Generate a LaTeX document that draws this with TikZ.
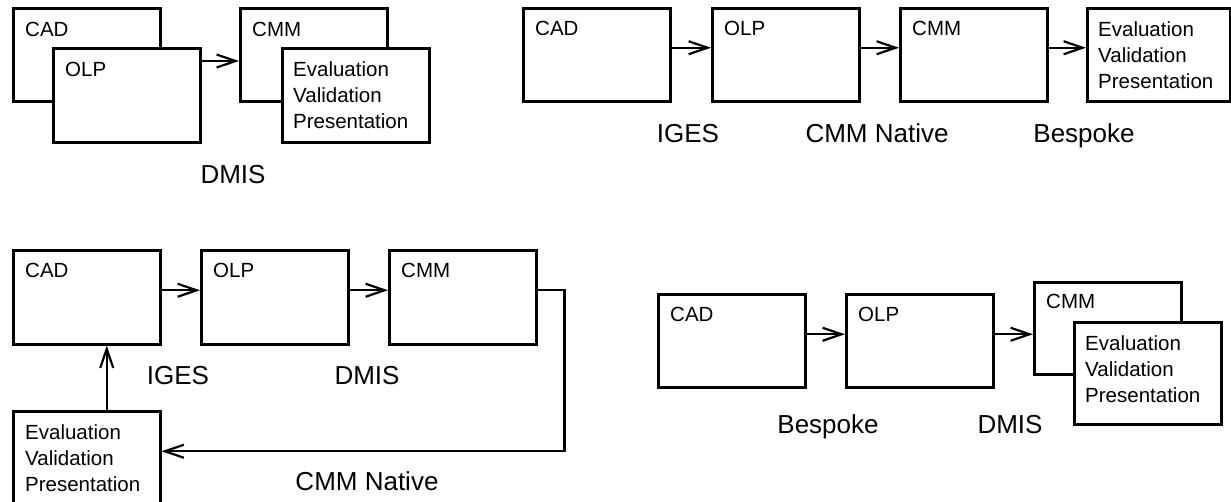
\documentclass[tikz,border=0pt]{standalone}
\usepackage{fontspec}
\setmainfont{Liberation Sans}
\usetikzlibrary{arrows.meta}
\tikzset{
  box/.style={draw, line width=2.5pt, fill=white, inner sep=0pt, anchor=north west,
    minimum width=147pt, minimum height=93pt},
  lbl/.style={font=\fontsize{20.5}{26}\selectfont, inner sep=0pt, anchor=north west, align=left},
  capt/.style={font=\fontsize{26}{30}\selectfont, inner sep=0pt, anchor=base},
  arr/.style={line width=2.4pt, -{Straight Barb[length=19pt,width=13pt,line width=2.2pt]}},
}
\begin{document}
\begin{tikzpicture}[x=1pt,y=-1pt]
\useasboundingbox (0,0) rectangle (1231,501);
% ---------- top left ----------
\node[box] (a1) at (12,7) {};
\node[lbl] (a1t) at ([xshift=13pt,yshift=-14.5pt]a1.north west) {CAD};
\node[box, minimum height=94pt] (a2) at (52,47) {};
\node[lbl] (a2t) at ([xshift=13pt,yshift=-14.5pt]a2.north west) {OLP};
\node[box] (a3) at (239,7) {};
\node[lbl] (a3t) at ([xshift=13pt,yshift=-14.5pt]a3.north west) {CMM};
\node[box, minimum height=94pt] (a4) at (281,47) {};
\node[lbl] (a4t) at ([xshift=12pt,yshift=-14.5pt]a4.north west) {Evaluation\\Validation\\Presentation};
\draw[arr] ([yshift=-14pt]a2.north east) -- ([yshift=-14pt]a2.north east -| a3.west);
\node[capt] (a5) at (233,183) {DMIS};
% ---------- top right ----------
\node[box] (b1) at (522,7) {};
\node[lbl] (b1t) at ([xshift=13pt,yshift=-14pt]b1.north west) {CAD};
\node[box] (b2) at (711,7) {};
\node[lbl] (b2t) at ([xshift=13pt,yshift=-14pt]b2.north west) {OLP};
\node[box] (b3) at (899,7) {};
\node[lbl] (b3t) at ([xshift=13pt,yshift=-14pt]b3.north west) {CMM};
\node[box, minimum width=143pt] (b4) at (1086,7) {};
\node[lbl] (b4t) at ([xshift=12pt,yshift=-14pt]b4.north west) {Evaluation\\Validation\\Presentation};
\draw[arr] ([yshift=7pt]b1.east) -- ([yshift=7pt]b1.east -| b2.west);
\draw[arr] ([yshift=7pt]b2.east) -- ([yshift=7pt]b2.east -| b3.west);
\draw[arr] ([yshift=7pt]b3.east) -- ([yshift=7pt]b3.east -| b4.west);
\node[capt] (b5) at (688,142) {IGES};
\node[capt] (b6) at (877,142) {CMM Native};
\node[capt] (b7) at (1084,142) {Bespoke};
% ---------- bottom left ----------
\node[box, minimum height=94pt] (c1) at (12,249) {};
\node[lbl] (c1t) at ([xshift=13pt,yshift=-14pt]c1.north west) {CAD};
\node[box, minimum height=94pt] (c2) at (200,249) {};
\node[lbl] (c2t) at ([xshift=13pt,yshift=-14pt]c2.north west) {OLP};
\node[box, minimum height=94pt] (c3) at (388,249) {};
\node[lbl] (c3t) at ([xshift=13pt,yshift=-14pt]c3.north west) {CMM};
\node[box] (c4) at (12,410) {};
\node[lbl] (c4t) at ([xshift=13pt,yshift=-14pt]c4.north west) {Evaluation\\Validation\\Presentation};
\draw[arr] ([yshift=7pt]c1.east) -- ([yshift=7pt]c1.east -| c2.west);
\draw[arr] ([yshift=7pt]c2.east) -- ([yshift=7pt]c2.east -| c3.west);
\draw[arr] ([yshift=7pt]c3.east) -- ++(27pt,0) |- ([yshift=6.5pt]c4.east);
\draw[arr] ([xshift=20pt]c4.north) -- ([xshift=20pt]c1.south);
\node[capt] (c5) at (178,384) {IGES};
\node[capt] (c6) at (367,384) {DMIS};
\node[capt] (c7) at (367,490) {CMM Native};
% ---------- bottom right ----------
\node[box] (d1) at (657,293) {};
\node[lbl] (d1t) at ([xshift=13pt,yshift=-14pt]d1.north west) {CAD};
\node[box] (d2) at (845,293) {};
\node[lbl] (d2t) at ([xshift=13pt,yshift=-14pt]d2.north west) {OLP};
\node[box, minimum height=92pt] (d3) at (1033,281) {};
\node[lbl] (d3t) at ([xshift=13pt,yshift=-13pt]d3.north west) {CMM};
\node[box, minimum height=102pt] (d4) at (1073,321) {};
\node[lbl] (d4t) at ([xshift=12pt,yshift=-14pt]d4.north west) {Evaluation\\Validation\\Presentation};
\draw[arr] ([yshift=6.5pt]d1.east) -- ([yshift=6.5pt]d1.east -| d2.west);
\draw[arr] ([yshift=6.5pt]d2.east) -- ([yshift=6.5pt]d2.east -| d3.west);
\node[capt] (d5) at (828,433) {Bespoke};
\node[capt] (d6) at (1010,433) {DMIS};
\end{tikzpicture}
\end{document}
